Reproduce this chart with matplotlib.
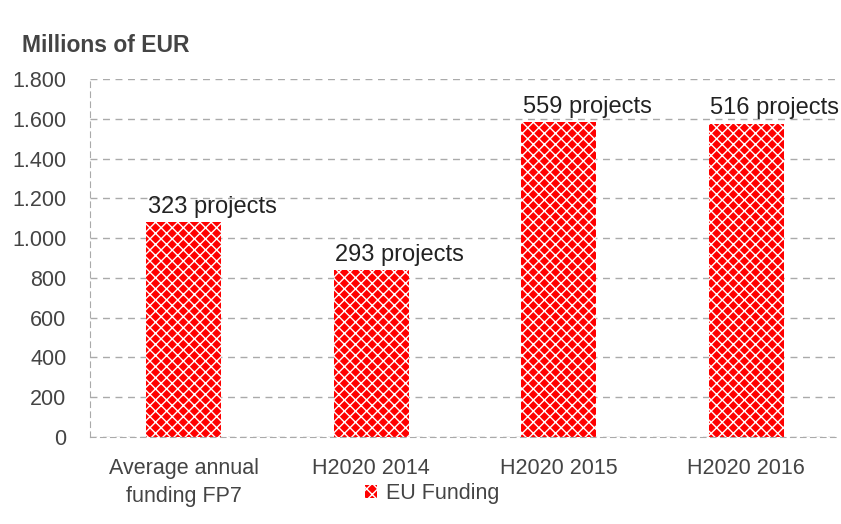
import matplotlib.pyplot as plt
from matplotlib.ticker import FuncFormatter

categories = ["Average annual\nfunding FP7", "H2020 2014", "H2020 2015", "H2020 2016"]
funding = [1080, 840, 1582, 1576]
project_labels = ["323 projects", "293 projects", "559 projects", "516 projects"]
yticks = [0, 200, 400, 600, 800, 1000, 1200, 1400, 1600, 1800]

FONT = ["Liberation Sans", "DejaVu Sans"]

fig = plt.figure(figsize=(8.41, 5.24), dpi=100)
ax = fig.add_axes([90 / 841, 1 - 437 / 524, 1 - 91 / 841, (437 - 79) / 524])

bars = ax.bar(range(len(categories)), funding, width=0.4, color="#ff0000",
              edgecolor="white", linewidth=0, hatch="xxx", label="EU Funding", zorder=2)

# project counts above bars, left aligned on bar edge
for b, txt in zip(bars, project_labels):
    ax.annotate(txt, xy=(b.get_x(), b.get_height()), xytext=(1, 3),
                textcoords="offset points", ha="left", va="bottom",
                fontsize=17, family=FONT, color="#222222", zorder=3)

ax.set_xlim(-0.5, 3.5)
ax.set_ylim(0, 1800)
ax.set_yticks(yticks)
ax.yaxis.set_major_formatter(FuncFormatter(lambda v, p: f"{int(v):,}".replace(",", ".")))
ax.set_xticks(range(len(categories)))
ax.set_xticklabels(categories, family=FONT, fontsize=15.5, color="#444444", linespacing=1.45)
for lab in ax.get_yticklabels():
    lab.set_family(FONT)
    lab.set_fontsize(15.5)
    lab.set_color("#444444")
ax.tick_params(axis="both", length=0)
ax.tick_params(axis="y", pad=17)
ax.tick_params(axis="x", pad=15)

ax.grid(axis="y", linestyle=(0, (5, 4)), color="#aaaaaa", linewidth=1, zorder=0)
ax.set_axisbelow(True)
for side in ["top", "right"]:
    ax.spines[side].set_visible(False)
for side in ["left", "bottom"]:
    ax.spines[side].set_linestyle((0, (5, 4)))
    ax.spines[side].set_color("#aaaaaa")

fig.text(22 / 841, 1 - 45 / 524, "Millions of EUR", fontsize=16.5, fontweight="bold",
         family=FONT, color="#444444", va="center", ha="left")

fig.legend(handles=[bars], labels=["EU Funding"], loc="center",
           bbox_to_anchor=(432 / 841, 1 - 494 / 524), frameon=False,
           prop={"family": FONT, "size": 15.5}, handlelength=0.55, handleheight=0.55,
           handletextpad=0.4, labelcolor="#444444")

fig.savefig("out.png", dpi=100)
